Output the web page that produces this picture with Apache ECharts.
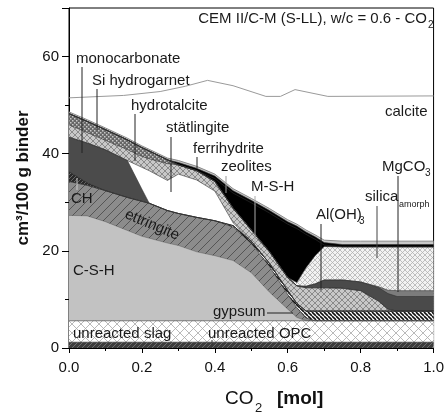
<!DOCTYPE html>
<html><head><meta charset="utf-8">
<script src="https://cdn.jsdelivr.net/npm/echarts@6/dist/echarts.min.js"></script>
<style>html,body{margin:0;padding:0;background:#fff}#c{width:447px;height:416px}</style>
</head><body><div id="c"></div>
<script>
// CO2 [mol] sample points
const xs = [0, 0.05, 0.1, 0.16, 0.2, 0.22, 0.27, 0.3, 0.35, 0.4, 0.45, 0.5, 0.55, 0.6, 0.625, 0.65, 0.675, 0.7, 0.75, 0.8, 0.85, 0.875, 0.9, 0.95, 1.0];
// cumulative upper boundaries (cm3/100 g binder), bottom to top
const opcTop   = [1.2,1.2,1.2,1.2,1.2,1.2,1.2,1.2,1.2,1.2,1.2,1.2,1.2,1.2,1.2,1.2,1.2,1.2,1.2,1.2,1.2,1.2,1.2,1.2,1.2];
const slagTop  = [5.6,5.6,5.6,5.6,5.6,5.6,5.6,5.6,5.6,5.6,5.6,5.6,5.6,5.6,5.6,5.6,5.6,5.6,5.6,5.6,5.6,5.6,5.6,5.6,5.6];
const cshTop   = [27.3,27.2,26.0,24.2,23.0,22.6,21.6,21.1,19.8,19.0,18.0,15.5,11.5,8.0,6.3,5.6,5.6,5.6,5.6,5.6,5.6,5.6,5.6,5.6,5.6];
const ettTop   = [34.3,33.5,32.4,31.0,30.2,29.8,28.3,27.7,26.9,26.2,24.9,21.5,16.8,11.0,8.3,6.2,5.6,5.6,5.6,5.6,5.6,5.6,5.6,5.6,5.6];
const gypTop   = [34.3,33.5,32.4,31.0,30.2,29.8,28.3,27.7,26.9,26.2,25.2,22.0,17.4,11.8,9.2,7.6,7.6,7.6,7.6,7.6,7.6,7.6,7.6,7.6,7.6];
const chTop    = [36.3,34.0,32.4,31.0,30.2,29.8,28.3,27.7,26.9,26.2,25.2,22.0,17.4,11.8,9.2,7.6,7.6,7.6,7.6,7.6,7.6,7.6,7.6,7.6,7.6];
const monoTop  = [43.4,42.2,40.8,38.6,32.7,29.8,28.3,27.7,26.9,26.2,25.2,22.0,17.4,11.8,9.2,7.6,7.6,7.6,7.6,7.6,7.6,7.6,7.6,7.6,7.6];
const statTop  = [43.4,42.2,40.8,38.6,37.2,36.5,34.5,35.8,34.6,32.3,25.8,22.0,17.4,11.8,9.2,7.6,7.6,7.6,7.6,7.6,7.6,7.6,7.6,7.6,7.6];
const htTop    = [45.95,44.35,42.75,40.85,39.45,38.95,37.95,37.7,36.5,34.3,28.8,24.3,19.8,14.5,12.8,12.4,12.4,12.4,12.3,11.8,9.6,8.0,7.6,7.6,7.6];
const siHgTop  = [48.25,46.65,44.95,42.85,41.25,40.55,38.75,37.7,36.5,34.3,28.8,24.3,19.8,14.5,12.8,12.4,12.4,12.4,12.3,11.8,9.6,8.0,7.6,7.6,7.6];
const alTop    = [48.25,46.65,44.95,42.85,41.25,40.55,38.75,37.7,36.5,34.3,28.8,24.3,19.8,14.5,12.8,12.7,13.2,14.0,14.0,13.6,12.4,11.2,10.6,10.6,10.6];
const mgTop    = [48.25,46.65,44.95,42.85,41.25,40.55,38.75,37.7,36.5,34.3,28.8,24.3,19.8,14.5,12.8,12.7,13.2,14.0,14.0,13.6,12.6,11.9,11.8,11.8,11.8];
const silTop   = [48.25,46.65,44.95,42.85,41.25,40.55,38.75,37.7,36.5,34.3,28.8,24.3,19.8,14.5,13.5,16.5,19.0,20.9,20.8,20.8,20.8,20.8,20.8,20.8,20.8];
const zeoTop   = [48.25,46.65,44.95,42.85,41.25,40.55,38.75,37.7,36.5,34.9,31.9,29.9,27.8,25.5,24.6,23.4,22.4,21.2,20.8,20.8,20.8,20.8,20.8,20.8,20.8];
const ferTop   = [48.25,46.65,44.95,42.85,41.25,40.55,38.75,38.2,37.0,35.4,32.4,30.4,28.3,26.0,25.1,23.9,22.9,21.7,21.3,21.3,21.3,21.3,21.3,21.3,21.3];
const totTop   = [48.6,47.0,45.3,43.2,41.6,40.9,39.1,38.6,37.4,35.8,32.8,30.8,28.7,26.4,25.5,24.3,23.3,22.2,22.0,22.0,22.0,22.0,22.0,22.0,22.0];
// calcite upper line
const calcX = [0, 0.15, 0.25, 0.32, 0.38, 0.45, 0.54, 0.58, 0.62, 0.71, 1.0];
const calcY = [51.5, 52.0, 52.8, 53.9, 55.1, 54.0, 51.8, 51.8, 53.2, 51.8, 51.9];
const xTicks = [0, 0.2, 0.4, 0.6, 0.8, 1.0];
const yTicks = [0, 20, 40, 60];

const FONT = 'Liberation Sans';

function hatch(size, bg, fg, lw, dirs) {
  const c = document.createElement('canvas'); c.width = c.height = size;
  const g = c.getContext('2d');
  g.fillStyle = bg; g.fillRect(0, 0, size, size);
  g.strokeStyle = fg; g.lineWidth = lw;
  dirs.forEach(d => {
    g.beginPath();
    for (let k = -1; k <= 1; k++) {
      if (d === '/') { g.moveTo(k*size, size); g.lineTo(k*size+size, 0); }
      else { g.moveTo(k*size, 0); g.lineTo(k*size+size, size); }
    }
    g.stroke();
  });
  return {image: c, repeat: 'repeat'};
}
function dots(size, bg, fg, s) {
  const c = document.createElement('canvas'); c.width = c.height = size;
  const g = c.getContext('2d');
  g.fillStyle = bg; g.fillRect(0, 0, size, size);
  g.fillStyle = fg;
  g.fillRect(0, 0, s, s); g.fillRect(size/2, size/2, s, s);
  return {image: c, repeat: 'repeat'};
}

const fills = {
  tot: '#c8c8c8',
  fer: '#000',
  zeo: '#000',
  sil: hatch(5, '#f2f2f2', '#b0b0b0', 0.8, ['/', '\\']),
  mg: '#7c7c7c',
  al: '#4a4a4a',
  siHg: dots(4, '#666666', '#c8c8c8', 1.5),
  ht: hatch(6, '#c8c8c8', '#828282', 0.9, ['/', '\\']),
  stat: '#ffffff',
  mono: '#4b4b4b',
  ch: hatch(4, '#2a2a2a', '#777', 0.8, ['/']),
  gyp: hatch(4, '#ffffff', '#111', 1.6, ['\\']),
  ett: hatch(9, '#8c8c8c', '#555', 1, ['/']),
  csh: '#c2c2c2',
  slag: hatch(9, '#ffffff', '#a8a8a8', 0.8, ['/', '\\']),
  opc: hatch(5, '#3c3c3c', '#707070', 1, ['/'])
};

function layer(name, tops, fill, lc, lw) {
  return {
    name, type: 'line', data: xs.map((x, i) => [x, tops[i]]),
    symbol: 'none', silent: true,
    lineStyle: {color: lc || '#333', width: lw === undefined ? 0.6 : lw},
    areaStyle: {color: fill, opacity: 1, origin: 'start'}
  };
}

const series = [
  layer('M-S-H', totTop, fills.tot, '#8a8a8a', 1),
  layer('ferrihydrite', ferTop, fills.fer),
  layer('zeolites', zeoTop, fills.zeo),
  layer('silica amorph', silTop, fills.sil),
  layer('MgCO3', mgTop, fills.mg),
  layer('Al(OH)3', alTop, fills.al),
  layer('Si hydrogarnet', siHgTop, fills.siHg),
  layer('hydrotalcite', htTop, fills.ht),
  layer('stätlingite', statTop, fills.stat),
  layer('monocarbonate', monoTop, fills.mono),
  layer('CH', chTop, fills.ch),
  layer('gypsum', gypTop, fills.gyp),
  layer('ettringite', ettTop, fills.ett),
  layer('C-S-H', cshTop, fills.csh, 'rgba(0,0,0,0.35)'),
  layer('unreacted slag', slagTop, fills.slag),
  layer('unreacted OPC', opcTop, fills.opc),
  {name: 'calcite', type: 'line', data: calcX.map((x, i) => [x, calcY[i]]), symbol: 'none', silent: true,
   lineStyle: {color: '#9a9a9a', width: 1}}
];

function txt(t, x, y, extra) {
  return Object.assign({type: 'text', x, y, z: 100,
    style: {text: t, font: '15px "' + FONT + '"', fill: '#1a1a1a', align: 'left', verticalAlign: 'top'}}, extra || {});
}
function sub(t, x, y, size) {
  return {type: 'text', x, y, z: 100, style: {text: t, font: (size || 10) + 'px "' + FONT + '"', fill: '#1a1a1a', align: 'left', verticalAlign: 'top'}};
}
function ptr(x1, y1, x2, y2, col) {
  return {type: 'line', z: 99, shape: {x1, y1, x2, y2}, style: {stroke: col || '#222', lineWidth: 1}};
}

const graphics = [
  {type: 'text', x: 427, y: 11, z: 100, style: {text: 'CEM II/C-M (S-LL), w/c = 0.6 - CO', font: '15px "' + FONT + '"', fill: '#1a1a1a', align: 'right', verticalAlign: 'top'}},
  sub('2', 428, 20),
  txt('monocarbonate', 76, 51), ptr(82, 67, 82, 153),
  txt('Si hydrogarnet', 92, 73), ptr(97, 89, 97, 130),
  txt('hydrotalcite', 131, 98), ptr(135, 114, 135, 161),
  txt('stätlingite', 166, 120), ptr(171, 137, 171, 192),
  txt('ferrihydrite', 193, 141), ptr(197, 157, 197, 168),
  txt('zeolites', 221, 159), ptr(226, 176, 226, 193, '#999'),
  txt('M-S-H', 251, 179), ptr(255, 196, 255, 243, '#aaa'),
  txt('Al(OH)', 316, 207), sub('3', 359, 216), ptr(321, 224, 321, 290),
  txt('silica', 365, 189), sub('amorph', 399, 200, 9), ptr(377, 206, 377, 258, '#444'),
  txt('MgCO', 382, 159), sub('3', 425, 168), ptr(398, 176, 398, 292),
  txt('calcite', 385, 104),
  txt('CH', 71, 191), ptr(77, 178, 77, 190, '#ccc'),
  {type: 'text', x: 152, y: 225, z: 100, rotation: -0.40,
   style: {text: 'ettringite', font: '15px "' + FONT + '"', fill: '#1a1a1a', align: 'center', verticalAlign: 'middle'}},
  txt('C-S-H', 73, 263),
  txt('gypsum', 213, 304), ptr(267, 313, 293, 313),
  txt('unreacted slag', 73, 326),
  txt('unreacted OPC', 208, 326), ptr(212, 340, 212, 347, '#333'),
  {type: 'text', x: 225, y: 389, z: 100, style: {text: 'CO', font: '19px "' + FONT + '"', fill: '#111', align: 'left', verticalAlign: 'top'}},
  sub('2', 255, 402, 13),
  {type: 'text', x: 277, y: 389, z: 100, style: {text: '[mol]', font: 'bold 19px "' + FONT + '"', fill: '#111', align: 'left', verticalAlign: 'top'}}
];

const chart = echarts.init(document.getElementById('c'), null, {renderer: 'canvas'});
chart.setOption({
  animation: false,
  backgroundColor: '#fff',
  grid: {left: 69, right: 10, top: 8, bottom: 68, show: true, borderColor: '#000', borderWidth: 1, backgroundColor: 'transparent', containLabel: false},
  xAxis: {
    type: 'value', min: xTicks[0], max: xTicks[xTicks.length - 1], interval: 0.2,
    axisLine: {show: true, lineStyle: {color: '#000', width: 1}},
    axisTick: {show: true, length: 5, lineStyle: {color: '#000'}},
    minorTick: {show: true, splitNumber: 2, length: 3, lineStyle: {color: '#000'}},
    axisLabel: {formatter: v => v.toFixed(1), fontSize: 15, fontFamily: FONT, color: '#111', margin: 12},
    splitLine: {show: false}
  },
  yAxis: [
    {
      type: 'value', min: 0, max: 70, interval: 20, position: 'left',
      axisLine: {show: true, lineStyle: {color: '#000', width: 1}},
      axisTick: {show: true, length: 7, lineStyle: {color: '#000'}},
      axisLabel: {formatter: v => (yTicks.indexOf(v) >= 0 ? String(v) : ''), fontSize: 15, fontFamily: FONT, color: '#111', margin: 10},
      splitLine: {show: false},
      name: 'cm³/100 g binder', nameLocation: 'middle', nameGap: 23,
      nameTextStyle: {fontSize: 17, fontWeight: 'bold', fontFamily: FONT, color: '#111'}
    },
    {
      type: 'value', min: 0, max: 70, interval: 10, position: 'left',
      axisLine: {show: false}, axisTick: {show: true, length: 4, lineStyle: {color: '#000'}},
      axisLabel: {show: false}, splitLine: {show: false}
    }
  ],
  series: series,
  graphic: graphics
});
</script>
</body></html>
